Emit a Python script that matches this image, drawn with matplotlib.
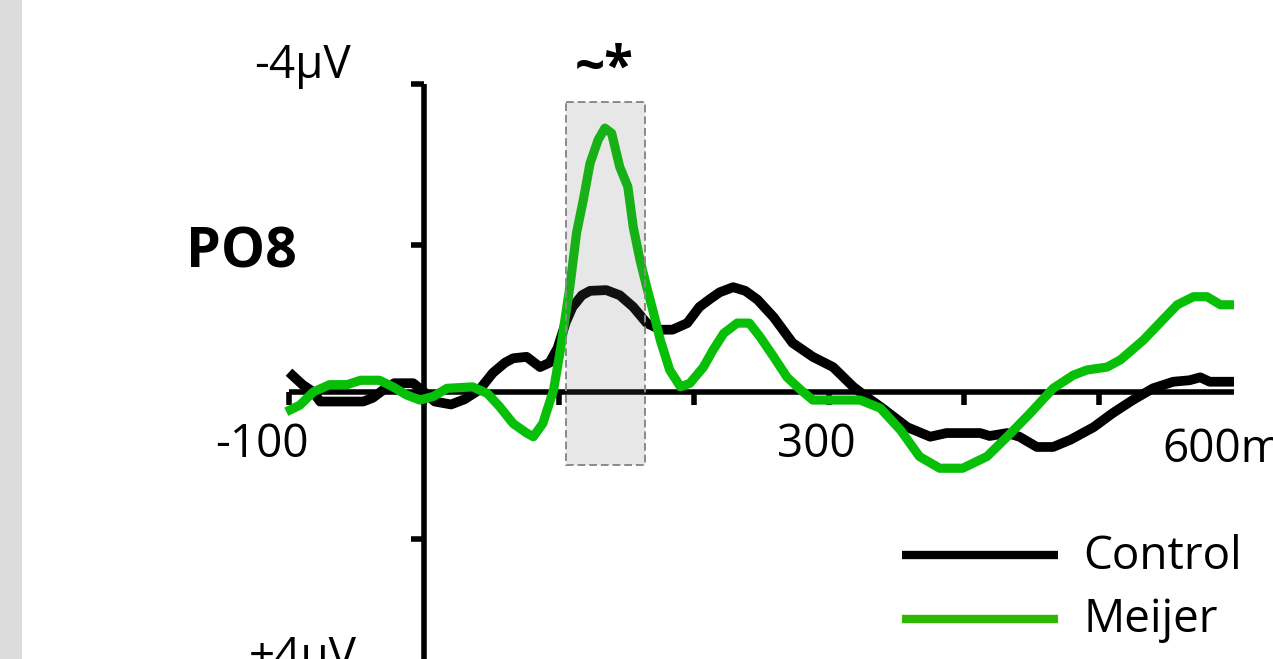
import matplotlib
matplotlib.use("Agg")
import matplotlib.pyplot as plt
from matplotlib.patches import Rectangle
from matplotlib.lines import Line2D

# ---------------- data (time in ms, amplitude in µV; negative plotted up) -------------
control_t = [-100, -90, -82, -77, -60, -45, -38, -30, -22, -8, 0, 8, 20, 30, 41, 51, 60, 66,
             76, 86, 93, 99, 105, 110, 117, 123, 135, 145, 155, 165, 175, 184, 195, 204, 212,
             219, 229, 238, 247, 259, 273, 288, 303, 318, 328, 338, 358, 375, 387, 412, 419,
             432, 441, 454, 466, 479, 496, 510, 525, 540, 555, 567, 575, 582, 600]
control_v = [-0.27, -0.10, 0.00, 0.13, 0.13, 0.13, 0.08, -0.03, -0.12, -0.12, 0.00, 0.13, 0.17,
             0.10, -0.03, -0.26, -0.40, -0.46, -0.48, -0.34, -0.40, -0.60, -0.95, -1.16, -1.32,
             -1.38, -1.39, -1.32, -1.16, -0.94, -0.85, -0.85, -0.94, -1.16, -1.27, -1.36, -1.43,
             -1.38, -1.26, -1.02, -0.67, -0.48, -0.34, -0.07, 0.07, 0.20, 0.48, 0.61, 0.56, 0.56,
             0.60, 0.56, 0.61, 0.75, 0.75, 0.65, 0.48, 0.29, 0.11, -0.05, -0.14, -0.16, -0.20,
             -0.14, -0.14]

meijer_t = [-102, -92, -82, -70, -57, -47, -33, -23, -13, -3, 7, 17, 36, 47, 56, 66, 76, 81, 88,
            96, 101, 108, 113, 118, 123, 129, 134, 139, 145, 151, 155, 160, 165, 170, 175, 182,
            190, 197, 207, 214, 222, 232, 241, 249, 259, 269, 279, 288, 323, 338, 353, 367, 382,
            399, 417, 432, 449, 466, 481, 491, 506, 516, 533, 547, 558, 570, 580, 590, 600]
meijer_v = [0.27, 0.18, 0.00, -0.10, -0.10, -0.16, -0.16, -0.07, 0.04, 0.11, 0.06, -0.05, -0.07,
            0.02, 0.20, 0.43, 0.56, 0.61, 0.43, -0.03, -0.57, -1.43, -2.17, -2.62, -3.12, -3.44,
            -3.60, -3.53, -3.07, -2.80, -2.25, -1.80, -1.43, -1.08, -0.71, -0.30, -0.07, -0.12,
            -0.34, -0.57, -0.80, -0.94, -0.94, -0.75, -0.48, -0.20, -0.03, 0.11, 0.11, 0.22, 0.52,
            0.88, 1.04, 1.04, 0.88, 0.61, 0.29, -0.05, -0.23, -0.30, -0.34, -0.44, -0.71, -0.98,
            -1.19, -1.30, -1.30, -1.19, -1.19]

x_ticks = [-100, 0, 100, 200, 300, 400, 500, 600]
y_ticks = [-4.2, -2, 2]
x_labels = {-100: "-100", 300: "300", 600: "600ms"}
sig_window = (105, 164)      # ms
sig_range = (-3.96, 1.0)     # µV
series_names = ["Control", "Meijer"]
electrode = "PO8"
sig_mark = "~*"

# ---------------- figure ----------------
W, H = 1273, 659
fig = plt.figure(figsize=(W / 100, H / 100), dpi=100)
ax = fig.add_axes([0, 0, 1, 1])
ax.axis("off")

X0, PX_MS = 424, 1.35     # pixel of t=0, px per ms
Y0, PX_UV = 392, 73.3     # pixel of 0 µV, px per µV
ax.set_xlim(-X0 / PX_MS, (W - X0) / PX_MS)
ax.set_ylim((H - Y0) / PX_UV, -Y0 / PX_UV)   # negative up

FONT = ["Open Sans", "DejaVu Sans"]
BLACK = "#000000"
GREEN = "#08bf08"
LEG_GREEN = "#2fb800"

# significance window
ax.add_patch(Rectangle((sig_window[0], sig_range[0]), sig_window[1] - sig_window[0],
                       sig_range[1] - sig_range[0], facecolor="#6c6c6c", alpha=0.157,
                       edgecolor="none", zorder=6))
ax.add_patch(Rectangle((sig_window[0], sig_range[0]), sig_window[1] - sig_window[0],
                       sig_range[1] - sig_range[0], facecolor="none", edgecolor="#8a8a8a",
                       lw=1.4, linestyle=(0, (4, 2)), zorder=7))

# axes lines
axis_lw = 4.0
ax.plot([x_ticks[0], x_ticks[-1]], [0, 0], color=BLACK, lw=axis_lw, solid_capstyle="butt", zorder=2)
ax.plot([0, 0], [y_ticks[0], 10], color=BLACK, lw=axis_lw, solid_capstyle="butt", zorder=2)
tick_len_v = 13 / PX_UV
for t in x_ticks[:-1]:
    ax.plot([t, t], [0, tick_len_v], color=BLACK, lw=axis_lw, solid_capstyle="butt", zorder=2)
tick_len_t = 13 / PX_MS
for v in y_ticks:
    ax.plot([-tick_len_t, 0], [v, v], color=BLACK, lw=axis_lw, solid_capstyle="butt", zorder=2)

# curves
ax.plot(control_t, control_v, color=BLACK, lw=7.0, solid_joinstyle="round",
        solid_capstyle="butt", zorder=3)
ax.plot(meijer_t, meijer_v, color=GREEN, lw=6.6, solid_joinstyle="round",
        solid_capstyle="butt", zorder=4)

# ---------------- texts (pixel positions) ----------------
def ftxt(px, py, s, **kw):
    fig.text(px / W, 1 - py / H, s, family=FONT, **kw)

ftxt(303, 78, "-4µV", fontsize=33, ha="center", va="baseline")
ftxt(303, 670, "+4µV", fontsize=33, ha="center", va="baseline")
ftxt(604, 84, sig_mark, fontsize=38, ha="center", va="baseline", fontweight="bold")
ftxt(241, 267, electrode, fontsize=40, ha="center", va="baseline", fontweight="bold")
ftxt(262, 457, x_labels[-100], fontsize=33, ha="center", va="baseline")
ftxt(816, 457, x_labels[300], fontsize=33, ha="center", va="baseline")
ftxt(1162, 462, x_labels[600], fontsize=33, ha="left", va="baseline")

# legend
for (name, col, py) in [(series_names[0], BLACK, 555), (series_names[1], LEG_GREEN, 619)]:
    fig.lines.append(Line2D([902 / W, 1058 / W], [1 - py / H, 1 - py / H], color=col, lw=6.0,
                            solid_capstyle="butt", transform=fig.transFigure))
ftxt(1083, 569, series_names[0], fontsize=33, ha="left", va="baseline")
ftxt(1083, 632, series_names[1], fontsize=33, ha="left", va="baseline")

# left grey strip
fig.patches.append(Rectangle((0, 0), 22 / W, 1, transform=fig.transFigure,
                             facecolor="#dcdcdc", edgecolor="none"))

fig.savefig("out.png", dpi=100)
